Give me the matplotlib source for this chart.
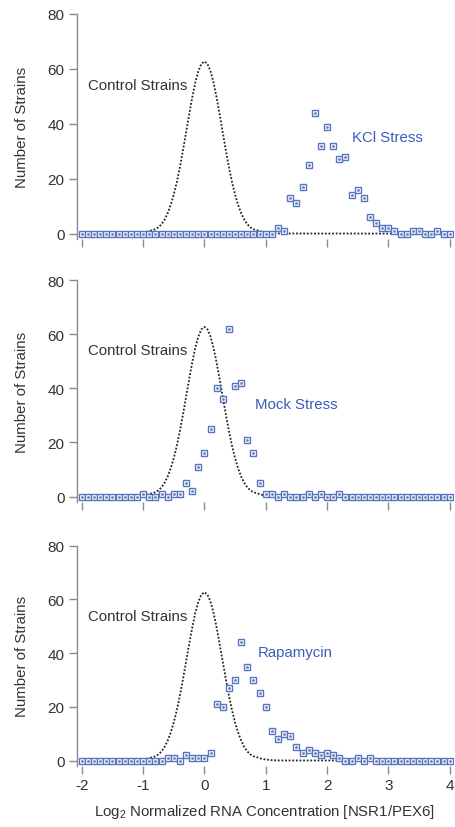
import numpy as np
import matplotlib.pyplot as plt

plt.rcParams['font.family'] = ['Liberation Sans', 'DejaVu Sans']
plt.rcParams['axes.unicode_minus'] = False
plt.rcParams['mathtext.fontset'] = 'custom'
plt.rcParams['mathtext.rm'] = 'Liberation Sans'
plt.rcParams['mathtext.it'] = 'Liberation Sans'
plt.rcParams['mathtext.default'] = 'regular'

# bin centres, log2 normalized RNA concentration
x_bins = np.round(np.arange(-2.0, 4.01, 0.1), 1)

# number of strains per bin, bins -2.0 .. 4.0
kcl = [0] * 32 + [2, 1, 13, 11, 17, 25, 44, 32, 39, 32, 27, 28, 14, 16, 13, 6,
                  4, 2, 2, 1, 0, 0, 1, 1, 0, 0, 1, 0, 0]
mock = [0] * 10 + [1, 0, 0, 1, 0, 1, 1, 5, 2, 11, 16, 25, 40, 36, 62, 41, 42, 21,
                   16, 5, 1, 1, 0, 1, 0, 0, 0, 1, 0, 1, 0, 0, 1] + [0] * 18
rapa = [0] * 14 + [1, 1, 0, 2, 1, 1, 1, 3, 21, 20, 27, 30, 44, 35, 30, 25, 20,
                   11, 8, 10, 9, 5, 3, 4, 3, 2, 3, 2, 1, 0, 0, 1, 0, 1] + [0] * 13

# control strains distribution (dotted curve)
ctrl_x = [-2.0, -1.2, -1.1, -1.0, -0.95, -0.9, -0.85, -0.8, -0.75, -0.7, -0.65, -0.6,
          -0.55, -0.5, -0.45, -0.4, -0.35, -0.3, -0.25, -0.2, -0.15, -0.1, -0.05,
          0.0, 0.05, 0.1, 0.15, 0.2, 0.25, 0.3, 0.35, 0.4, 0.45, 0.5, 0.55, 0.6,
          0.65, 0.7, 0.75, 0.8, 0.85, 0.9, 0.95, 1.0, 1.1, 1.2, 4.0]
ctrl_y = [0, 0.05, 0.15, 0.4, 0.6, 0.9, 1.3, 1.6, 2.3, 3.4, 5.1, 7.4,
          10.4, 14.2, 18.8, 24.2, 30.3, 36.7, 43.2, 49.4, 54.9, 59.1, 61.8,
          62.7, 61.8, 59.1, 54.9, 49.4, 43.2, 36.7, 30.3, 24.2, 18.8, 14.2, 10.4, 7.4,
          5.1, 3.4, 2.3, 1.6, 1.3, 0.9, 0.6, 0.4, 0.15, 0.05, 0]

series = [kcl, mock, rapa]
labels = ['KCl Stress', 'Mock Stress', 'Rapamycin']
label_pos = [(2.41, 35), (0.82, 34.2), (0.87, 40.4)]

blue = '#5575c4'
label_blue = '#3b5cb8'
txt = '#333333'
axc = '#8a8a8a'

fig = plt.figure(figsize=(4.55, 8.28), dpi=100)
boxes = [[0.169, 0.710, 0.826, 0.272],
         [0.169, 0.3925, 0.826, 0.268],
         [0.169, 0.0737, 0.826, 0.266]]

for i, (vals, lab, pos) in enumerate(zip(series, labels, label_pos)):
    ax = fig.add_axes(boxes[i])
    ax.plot(ctrl_x, ctrl_y, color='#222222', lw=1.3, ls=(0, (1, 1)), zorder=2)
    ax.plot(x_bins, vals, ls='none', marker='s', ms=5.0, mfc='white', mec=blue,
            mew=1.0, zorder=3)
    ax.plot(x_bins, vals, ls='none', marker='o', ms=1.0, color='#7080a8', zorder=4)

    ax.text(-1.9, 54, 'Control Strains', fontsize=10.8, color=txt, va='center')
    ax.text(pos[0], pos[1], lab, fontsize=10.8, color=label_blue, va='center')

    ax.set_xlim(-2.08, 4.05)
    ax.set_ylim(-2, 80)
    ax.set_yticks([0, 20, 40, 60, 80])
    ax.set_xticks([-2, -1, 0, 1, 2, 3, 4])
    for s in ['top', 'right', 'bottom']:
        ax.spines[s].set_visible(False)
    ax.spines['left'].set_color(axc)
    ax.spines['left'].set_linewidth(1.0)
    ax.tick_params(axis='both', colors=axc, labelcolor=txt, labelsize=11,
                   length=6, width=1.0, direction='out', pad=3)
    ax.set_ylabel('Number of Strains', fontsize=10.8, color=txt, labelpad=13)
    if i < 2:
        ax.set_xticklabels([])
    else:
        ax.set_xlabel('Log$_2$ Normalized RNA Concentration [NSR1/PEX6]',
                      fontsize=10.8, color=txt, labelpad=7)

fig.savefig('out.png', dpi=100)
